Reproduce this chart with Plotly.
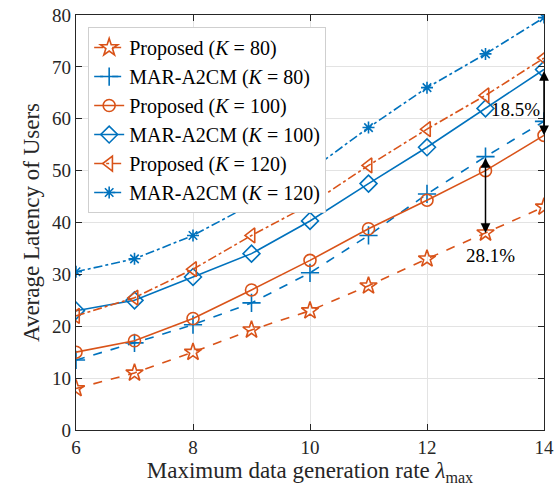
import plotly.graph_objects as go

x = [6, 7, 8, 9, 10, 11, 12, 13, 14]
prop_k80 = [8.0, 11.0, 15.0, 19.3, 23.0, 27.8, 33.0, 38.0, 43.0]
mar_k80 = [13.5, 16.8, 20.3, 24.5, 30.3, 37.5, 45.5, 52.7, 59.5]
prop_k100 = [15.0, 17.2, 21.5, 27.0, 32.7, 38.8, 44.3, 50.0, 56.8]
mar_k100 = [23.0, 25.0, 29.5, 34.0, 40.3, 47.5, 54.5, 62.0, 69.5]
prop_k120 = [22.0, 25.5, 31.0, 37.5, 43.5, 51.0, 58.0, 64.5, 71.7]
mar_k120 = [30.5, 33.0, 37.5, 43.5, 50.0, 58.3, 66.0, 72.5, 79.5]

ORANGE = "#D95319"
BLUE = "#0072BD"
FONT = "Liberation Serif"

series = [
    ("Proposed (<i>K</i> = 80)", prop_k80, ORANGE, "dash", "star-open", 13),
    ("MAR-A2CM (<i>K</i> = 80)", mar_k80, BLUE, "dash", "cross-thin-open", 13),
    ("Proposed (<i>K</i> = 100)", prop_k100, ORANGE, "solid", "circle-open", 12),
    ("MAR-A2CM (<i>K</i> = 100)", mar_k100, BLUE, "solid", "diamond-open", 13),
    ("Proposed (<i>K</i> = 120)", prop_k120, ORANGE, "dashdot", "triangle-left-open", 13),
    ("MAR-A2CM (<i>K</i> = 120)", mar_k120, BLUE, "dashdot", "asterisk-open", 10),
]

fig = go.Figure()
for name, y, c, dash, sym, sz in series:
    fig.add_trace(go.Scatter(
        x=x, y=y, name=name, mode="lines+markers",
        line=dict(color=c, width=1.6, dash=dash),
        marker=dict(symbol=sym, size=sz, color=c, line=dict(color=c, width=1.6)),
    ))

# gap arrows
i14 = x.index(14)
i13 = x.index(13)
arrows = [(14, mar_k100[i14], prop_k100[i14]), (13, mar_k80[i13], prop_k80[i13])]
for xa, ytop, ybot in arrows:
    fig.add_annotation(x=xa, y=ybot, ax=xa, ay=ytop, xref="x", yref="y", axref="x", ayref="y",
                       showarrow=True, arrowhead=2, arrowside="end+start", arrowsize=1.3,
                       arrowwidth=1.5, arrowcolor="black", text="")
fig.add_annotation(x=13.97, y=61.8, text="18.5%", showarrow=False, xanchor="right",
                   font=dict(family=FONT, size=19, color="black"))
fig.add_annotation(x=13.08, y=33.7, text="28.1%", showarrow=False,
                   font=dict(family=FONT, size=19, color="black"))

axis_common = dict(showline=True, linecolor="#262626", linewidth=1.2, mirror="ticks",
                   ticks="inside", ticklen=6, tickcolor="#262626",
                   showgrid=True, gridcolor="#E3E3E3", gridwidth=1, zeroline=False,
                   automargin=False,
                   tickfont=dict(family=FONT, size=19, color="#262626"))
fig.update_xaxes(range=[6, 14], dtick=2, tick0=6,
                 title=dict(text="Maximum data generation rate <i>λ</i><sub>max</sub>",
                            font=dict(family=FONT, size=23, color="#262626"), standoff=2),
                 **axis_common)
fig.update_yaxes(range=[0, 80], dtick=10,
                 title=dict(text="Average Latency of Users",
                            font=dict(family=FONT, size=23, color="#262626"), standoff=6),
                 **axis_common)

fig.update_layout(
    width=558, height=489,
    margin=dict(l=76, r=14, t=15, b=59),
    plot_bgcolor="white", paper_bgcolor="white",
    font=dict(family=FONT, color="#262626"),
    showlegend=True,
    legend=dict(x=0.026, y=0.971, xanchor="left", yanchor="top",
                bgcolor="white", bordercolor="#CFCFCF", borderwidth=1,
                font=dict(family=FONT, size=20, color="black"),
                tracegroupgap=0, itemwidth=30),
)

fig.write_html("out.html", config={"displayModeBar": False},
               post_script="document.body.style.margin='0';document.body.style.overflow='hidden';")
